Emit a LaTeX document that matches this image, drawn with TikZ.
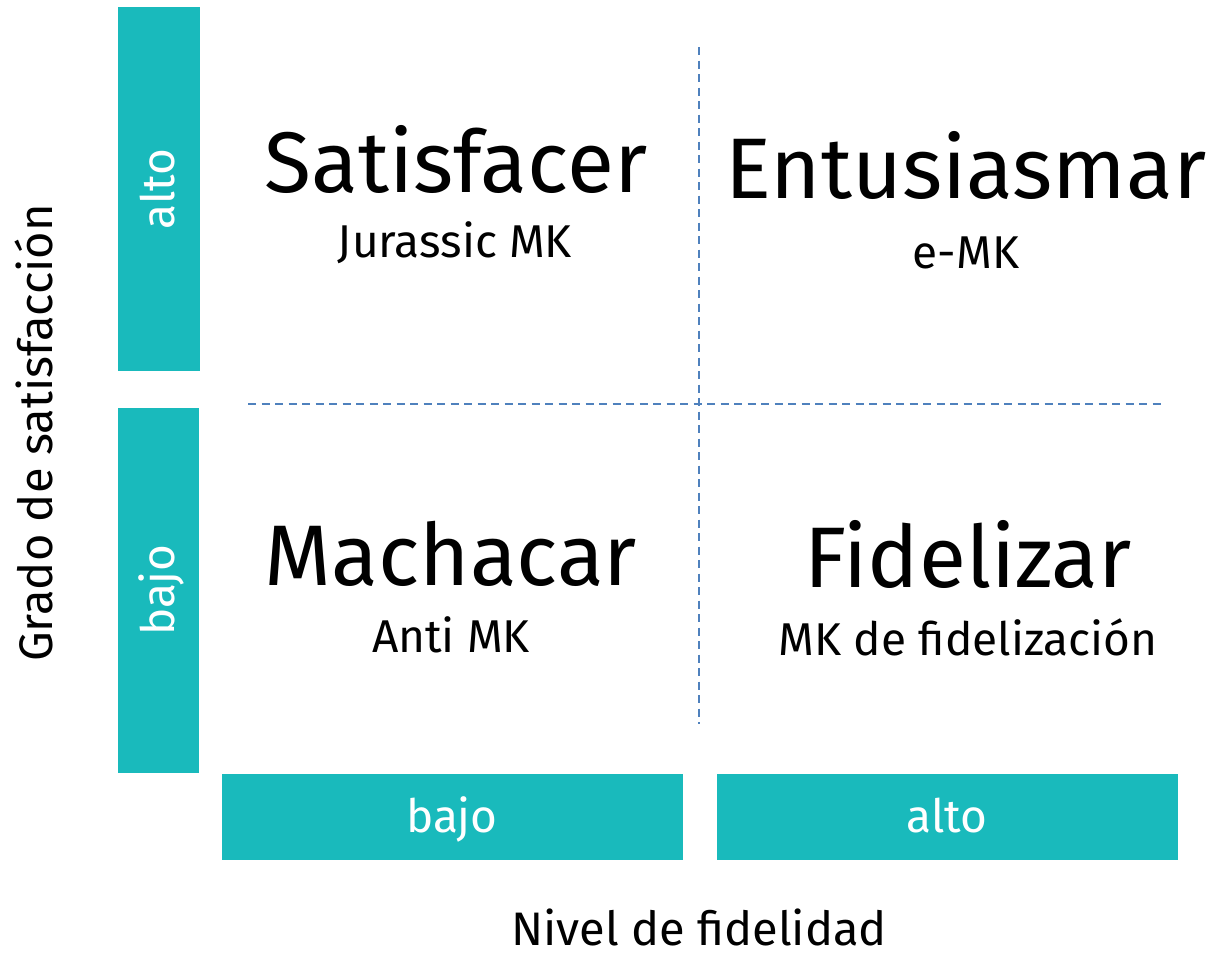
\documentclass[tikz,border=0pt]{standalone}
\usepackage{fontspec}
\setmainfont{Fira Sans}
\definecolor{teal}{HTML}{19BABC}
\definecolor{dashblue}{HTML}{4F81BD}
\begin{document}
\begin{tikzpicture}[x=1pt,y=-1pt,
  bar/.style={fill=teal,draw=none},
  bartext/.style={text=white,font=\fontsize{46}{50}\selectfont,inner sep=0pt,anchor=base},
  title/.style={font=\fontsize{86}{92}\selectfont,inner sep=0pt,anchor=base},
  sub/.style={font=\fontsize{46}{50}\selectfont,inner sep=0pt,anchor=base},
  axis/.style={font=\fontsize{47}{50}\selectfont,inner sep=0pt,anchor=base},
  divider/.style={draw=dashblue,line width=1.3pt,dash pattern=on 8pt off 5.5pt}]
\useasboundingbox (0,0) rectangle (1210,953);
% bars
\fill[bar] (118,7) rectangle (200,371);
\fill[bar] (118,408) rectangle (199,773);
\fill[bar] (222,774) rectangle (683,860);
\fill[bar] (717,774) rectangle (1178,860);
\node[bartext,rotate=90] (ya) at (174,189) {alto};
\node[bartext,rotate=90] (yb) at (174,590) {bajo};
\node[bartext] (xb) at (452,832) {bajo};
\node[bartext] (xa) at (947,832) {alto};
% dividers
\coordinate (h1) at (248,404);
\coordinate (h2) at (1163,404);
\coordinate (v1) at (699,47);
\coordinate (v2) at (699,724);
\draw[divider] (h1) -- (h2);
\draw[divider] (v1) -- (v2);
% quadrant titles
\node[title] (t1) at (456,192) {Satisfacer};
\node[sub] (s1) at (455,257) {Jurassic MK};
\node[title] (t2) at (966,198) {Entusiasmar};
\node[sub] (s2) at (966,268) {e-MK};
\node[title] (t3) at (451,585) {Machacar};
\node[sub] (s3) at (451,652) {Anti MK};
\node[title] (t4) at (968,587) {Fidelizar};
\node[sub] (s4) at (968,655) {MK de fidelización};
% axis labels
\node[axis,rotate=90] (ay) at (52,433) {Grado de satisfacción};
\node[axis] (ax) at (699,945) {Nivel de fidelidad};
\end{tikzpicture}
\end{document}
